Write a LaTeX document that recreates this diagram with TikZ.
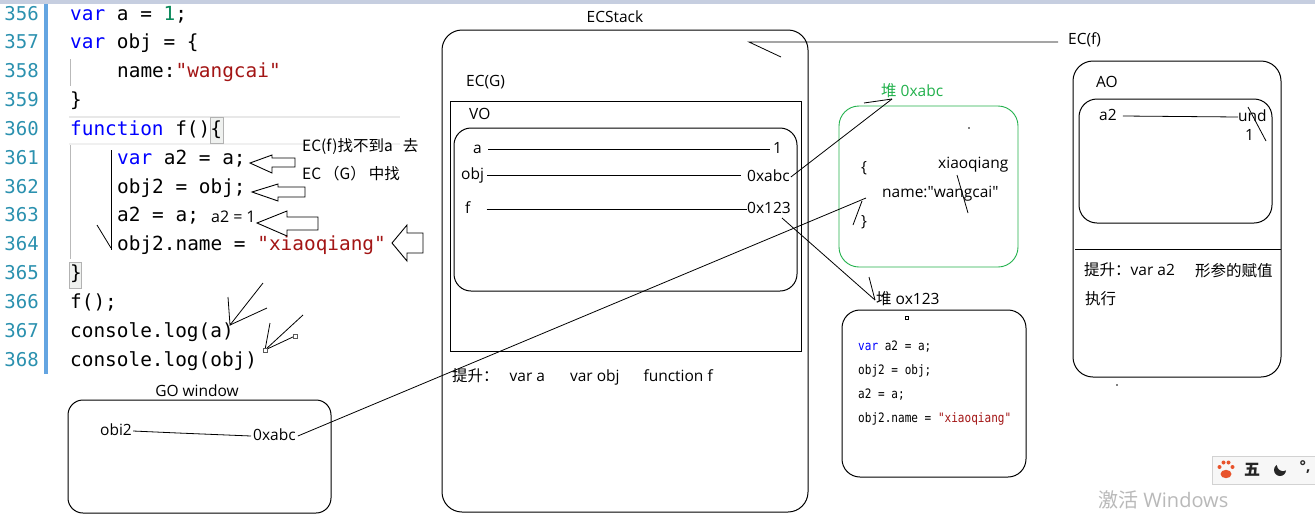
\documentclass[tikz,border=0pt]{standalone}
\usepackage{fontspec}
\newfontfamily\cjk{Noto Sans CJK SC}
\newfontfamily\lat{Open Sans}
\newfontfamily\code{DejaVu Sans Mono}
\newfontfamily\hcodef[FakeStretch=0.85]{DejaVu Sans Mono}
\newcommand{\zh}[1]{{\cjk #1}}
\definecolor{kw}{RGB}{0,0,255}
\definecolor{num}{RGB}{9,136,90}
\definecolor{str}{RGB}{163,21,21}
\definecolor{lnum}{RGB}{43,145,175}
\definecolor{grn}{RGB}{34,177,76}
\definecolor{bar}{RGB}{100,165,225}
\definecolor{topband}{RGB}{198,206,224}
\definecolor{paw}{RGB}{232,83,43}
\tikzset{
  codet/.style={font=\code\fontsize{19.4}{20}\selectfont, anchor=west, inner sep=0pt, text height=14pt, text depth=4pt},
  lnumt/.style={font=\code\fontsize{19}{20}\selectfont, anchor=east, inner sep=0pt, text height=14pt, text depth=4pt, text=lnum},
  lbl/.style={font=\lat\fontsize{15.5}{16}\selectfont, anchor=west, inner sep=0pt, text height=11pt, text depth=3pt},
  small/.style={font=\lat\fontsize{15}{16}\selectfont, anchor=west, inner sep=0pt, text height=10pt, text depth=3pt},
  note/.style={font=\cjk\fontsize{15.5}{16}\selectfont, anchor=west, inner sep=0pt, text height=11pt, text depth=3pt},
  hcode/.style={font=\hcodef\fontsize{13}{14}\selectfont, anchor=west, inner sep=0pt, text height=9pt, text depth=3pt},
  rbox/.style={draw, line width=1pt, rounded corners=18pt},
  hollow/.style={draw, line width=0.9pt, fill=white},
  stroke/.style={line width=0.8pt},
}
\begin{document}
\begin{tikzpicture}[x=1pt,y=-1pt]
\useasboundingbox (0,0) rectangle (1315,520);
\fill[white] (0,0) rectangle (1315,520);
\fill[topband] (0,0) rectangle (1315,4);

% ---------- code panel ----------
\fill[bar] (44,4) rectangle (48,374);
% current line highlight (360)
\draw[gray!18, line width=1.5pt] (69,117) -- (400,117);
\draw[gray!12, line width=1.5pt] (69,144) -- (400,144);
\draw[gray!60, fill=green!6!gray!12] (210.5,117.5) rectangle (223,143);
\draw[gray!60, fill=green!6!gray!12] (69,262) rectangle (81,288);
% indent guides
\draw[gray!55, line width=0.8pt] (70,59) -- (70,86);
\draw[gray!55, line width=0.8pt] (70,145) -- (70,259);

\foreach \n/\y in {356/15.0,357/43.8,358/72.7,359/101.5,360/130.3,361/159.2,362/188.0,363/216.8,364/245.6,365/274.5,366/303.3,367/332.1,368/361.0}
  \node[lnumt] (ln\n) at (39,\y) {\n};

\node[codet] (c356) at (70,15.0) {{\color{kw}var} a = {\color{num}1};};
\node[codet] (c357) at (70,43.8) {{\color{kw}var} obj = \{};
\node[codet] (c358) at (117,72.7) {name:{\color{str}"wangcai"}};
\node[codet] (c359) at (70,101.5) {\}};
\node[codet] (c360) at (70,130.3) {{\color{kw}function} f()\{};
\node[codet] (c361) at (117,159.2) {{\color{kw}var} a2 = a;};
\node[codet] (c362) at (117,188.0) {obj2 = obj;};
\node[codet] (c363) at (117,216.8) {a2 = a;};
\node[codet] (c364) at (117,245.6) {obj2.name = {\color{str}"xiaoqiang"}};
\node[codet] (c365) at (70,274.5) {\}};
\node[codet] (c366) at (70,303.3) {f();};
\node[codet] (c367) at (70,332.1) {console.log(a)};
\node[codet] (c368) at (70,361.0) {console.log(obj)};

% hand strokes in code
\draw[stroke] (111,150) -- (111,250);
\draw[stroke] (97,225) -- (111,248);
\node[small, font=\lat\fontsize{16}{16}\selectfont] (a2eq) at (211,219) {a2\hspace{4pt}=\hspace{4pt}1};

% hollow arrows
\draw[hollow] (250,163) -- (272,155) -- (272,158) -- (295,158) -- (295,167) -- (272,167) -- (272,173) -- cycle;
\draw[hollow] (252,192) -- (278,184) -- (278,187) -- (305,187) -- (305,197) -- (278,197) -- (278,201) -- cycle;
\draw[hollow] (257,223) -- (287,211) -- (287,217) -- (318,217) -- (318,230) -- (287,230) -- (287,236) -- cycle;
\draw[hollow] (392,243) -- (407,225) -- (407,233) -- (423,233) -- (423,253) -- (407,253) -- (407,261) -- cycle;

\node[note] (note1) at (302,147) {EC(f)找不到a\hspace{10pt}去};
\node[note] (note2) at (302,175) {EC\hspace{3pt}（G）\hspace{3pt}中找};

% pointer strokes near console.log
\coordinate (p1) at (230,325);
\draw[stroke] (228,297) -- (p1) -- (263,283);
\draw[stroke] (p1) -- (267,308);
\coordinate (p2) at (265,350);
\draw[stroke] (270,323) -- (p2) -- (303,315);
\draw[stroke] (p2) -- (295,336);
\draw[gray!70!black, line width=0.6pt, fill=white] (263,348) rectangle (267,352);
\draw[gray!70!black, line width=0.6pt, fill=white] (293,334) rectangle (297,338);

% ---------- GO window ----------
\node[lbl, anchor=center] (golbl) at (197,392) {GO window};
\draw[rbox, rounded corners=15pt] (68,400) rectangle (331,513);
\node[lbl] (gok) at (100,431) {obi2};
\node[lbl] (gov) at (253,436) {0xabc};
\draw[stroke] ([xshift=1pt]gok.east) -- (178,433) -- ([xshift=-2pt]gov.west);

% ---------- ECStack ----------
\node[lbl, anchor=center] (ecslbl) at (615,18) {ECStack};
\draw[rbox, rounded corners=20pt] (442,30) rectangle (808,512);
\node[lbl] (ecg) at (466,82) {EC(G)};
\draw[line width=1pt] (450,101) rectangle (801,351);
\node[lbl] (vo) at (469,115) {VO};
\draw[rbox, rounded corners=17pt] (454,128) rectangle (797,291);
\node[lbl] (ka) at (473,149) {a};
\node[lbl] (va) at (773,149) {1};
\node[lbl] (kobj) at (461,175) {obj};
\node[lbl] (vobj) at (747,177) {0xabc};
\node[lbl] (kf) at (465,209) {f};
\node[lbl] (vf) at (747,209) {0x123};
\draw[stroke] (ka.east) ++(6,0) -- ([xshift=-3pt]va.west);
\draw[stroke] ([xshift=3pt]kobj.east) -- ([xshift=-6pt]vobj.west|-kobj.east);
\draw[stroke] (kf.east) ++(16,0) -- (vf.west);
\node[lbl] (hoist) at (452,377) {\zh{提升：}\hspace{11pt}var a\hspace{25pt}var obj\hspace{24pt}function f};

% EC(f) pointer
\coordinate (ecs1) at (749,42);
\coordinate (ecs2) at (781,57);
\node[lbl] (ecf) at (1068,40) {EC(f)};
\draw[stroke] (ecs2) -- (ecs1) -- ([xshift=-10pt]ecf.west|-ecs1);

% ---------- heap 0xabc ----------
\node[lbl, text=grn] (h1lbl) at (881,92) {\zh{堆} 0xabc};
\draw[rbox, draw=grn, line width=0.9pt, rounded corners=20pt] (839,106) rectangle (1018,267);
\node[lbl] (ob) at (861,168) {\{};
\node[lbl] (xq) at (938,164) {xiaoqiang};
\node[lbl] (nm) at (882,193) {name:"wangcai"};
\node[lbl] (cb) at (861,222) {\}};
\fill (969,128) circle (0.8);
\draw[stroke] (957,175) -- (968,213);

% ---------- heap ox123 ----------
\node[lbl] (h2lbl) at (876,300) {\zh{堆} ox123};
\draw[rbox, rounded corners=18pt] (842,310) rectangle (1026,477);
\draw[line width=0.6pt] (905.5,316.5) rectangle (908.5,319.5);
\node[hcode] (hc1) at (858,347) {{\color{kw}var} a2 = a;};
\node[hcode] (hc2) at (858,371) {obj2 = obj;};
\node[hcode] (hc3) at (858,395) {a2 = a;};
\node[hcode] (hc4) at (858,419) {obj2.name = {\color{str}"xiaoqiang"}};

% pointer lines between regions
\coordinate (hp1) at (866,198);
\draw[stroke] ([xshift=2pt]gov.east) -- (hp1);
\draw[stroke] (862,201) -- (853,225);
\coordinate (hl1) at (892,99);
\draw[stroke] ([xshift=1pt]vobj.east) -- (hl1);
\draw[stroke] (864,103) -- (hl1);
\coordinate (hl2) at (875,300);
\draw[stroke] (782,218) -- (hl2);
\draw[stroke] (869,277) -- (hl2);

% ---------- AO ----------
\draw[rbox, rounded corners=20pt] (1073,61) rectangle (1281,377);
\node[lbl] (ao) at (1096,83) {AO};
\draw[rbox, rounded corners=18pt] (1079,99) rectangle (1272,223);
\node[lbl] (ka2) at (1099,116) {a2};
\node[lbl] (und) at (1238,117) {und};
\node[lbl] (one) at (1245,136) {1};
\draw[stroke] ([xshift=6pt]ka2.east) -- (und.west);
\draw[stroke] (1248,107) -- (1266,141);
\draw[line width=1pt] (1075,249) -- (1281,249);
\node[lbl] (aoh) at (1084,271) {\zh{提升：}var a2};
\node[lbl] (aof) at (1195,272) {\zh{形参的赋值}};
\node[lbl] (aoe) at (1085,300) {\zh{执行}};
\fill (1117,385) circle (0.9);

% ---------- screen furniture ----------
\draw[gray!35, fill=gray!6] (1212,456) rectangle (1317,484);
\fill[paw] (1226,474) ellipse (5.5 and 4.2);
\foreach \px/\py in {1219.5/467,1223.5/462.5,1228.5/462.5,1232.5/467}
  \fill[paw] (\px,\py) circle (2);
\node[font=\cjk\bfseries\fontsize{16}{16}\selectfont, text=gray!30!black, inner sep=0pt] (wu) at (1252,470) {五};
\fill[gray!30!black] (1280,470) circle (6);
\fill[gray!6] (1283,465) circle (6);
\node[font=\lat\bfseries\fontsize{15}{15}\selectfont, text=gray!30!black, inner sep=0pt] (deg) at (1305,467) {°,};
\node[font=\lat\fontsize{20}{20}\selectfont, text=gray!55, anchor=west, inner sep=0pt] (wm) at (1098,500) {\zh{激活} Windows};
\end{tikzpicture}
\end{document}
